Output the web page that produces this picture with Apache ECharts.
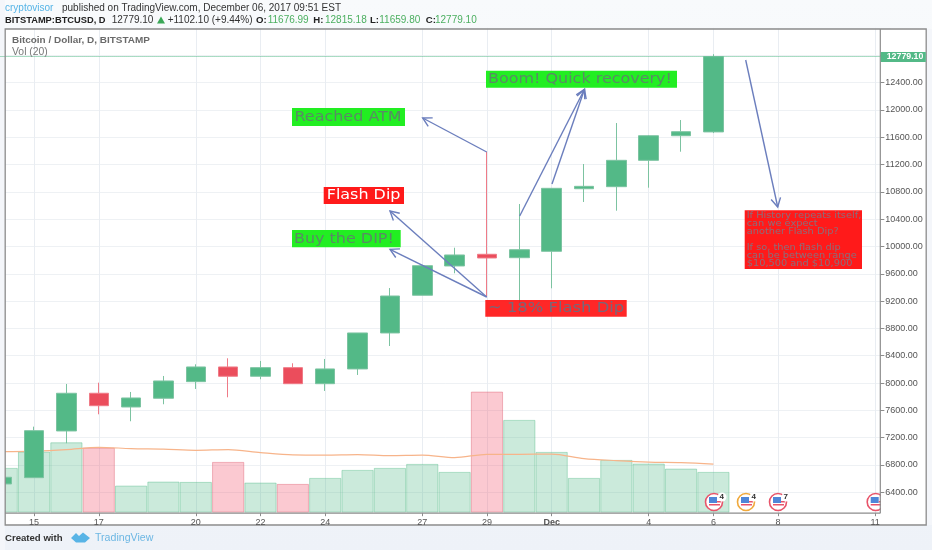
<!DOCTYPE html>
<html><head><meta charset="utf-8">
<style>html,body{margin:0;padding:0;width:932px;height:550px;overflow:hidden;background:linear-gradient(#f8fafc,#eef2f8);}#c{width:932px;height:550px;}</style>
<script src="https://cdn.jsdelivr.net/npm/echarts@6/dist/echarts.min.js"></script>
</head><body><div id="c"></div>
<script>
// ---- data ----
const categories = ['14','15','16','17','18','19','20','21','22','23','24','25','26','27','28','29','30','Dec','2','3','4','5','6','7','8','9','10','11'];
const shownDays  = ['15','17','20','22','24','27','29','Dec','4','6','8','11'];
const opens  = [6522,6614,7298,7850,7649,7777,8020,8235,8099,8225,7990,8206,8733,9285,9714,9885,9835,9929,10845,10875,11261,11621,11676.99];
const closes = [6620,7302,7850,7668,7781,8030,8235,8099,8225,7990,8206,8733,9274,9718,9875,9831,9952,10851,10880,11261,11621,11680,12779.10];
const highs  = [6620,7361,7986,8005,7869,8103,8274,8362,8323,8289,8352,8733,9391,9730,9981,11387,10621,10855,11207,11807,11630,11851,12815.18];
const lows   = [6522,6614,7118,7542,7440,7689,7913,7791,8055,7985,7884,8118,8542,9285,9607,9264,9011,9387,10651,10523,10860,11387,11659.80];
const volumes = [44.7,61,70.3,65,27,31,30.7,50.7,30,28.7,34.7,42.7,44.7,48.7,40.7,121,92.7,60.7,34.7,52.7,49,44,40.7];
const volumeMA = [61,61.5,63,65.3,64,63.5,62.3,63,60,57.7,57.5,58,57,57.5,55,58.3,58.3,58.5,54,52,50.5,50,48.5];
const priceTicks = [6400,6800,7200,7600,8000,8400,8800,9200,9600,10000,10400,10800,11200,11600,12000,12400,12800];
const lastPrice = 12779.10;

const UP='#53b987', DOWN='#eb4d5c';
const candleData = opens.map((o,i)=>[o,closes[i],lows[i],highs[i]]);
const volumeData = volumes.map((v,i)=>({value:v,itemStyle:closes[i]>=opens[i]
  ?{color:'rgba(83,185,135,0.30)',borderColor:'rgba(83,185,135,0.42)',borderWidth:1}
  :{color:'rgba(244,92,116,0.33)',borderColor:'rgba(220,90,110,0.42)',borderWidth:1}}));

const UI='"Liberation Sans",Arial,sans-serif', DV='"DejaVu Sans",sans-serif';
const ARROW='#6b7ebd';
function txt(x,y,t,fill,size,weight,family,z,sx){return{type:'text',z:z||20,x:x,y:y,scaleX:sx||1,style:{text:t,fill:fill,font:(weight||'normal')+' '+size+'px '+(family||UI),verticalAlign:'middle',align:'left'}};}
function rect(x,y,w,h,fill,z){return{type:'rect',z:z||18,shape:{x:x,y:y,width:w,height:h},style:{fill:fill}};}
function seg(x1,y1,x2,y2,col,w,z){return{type:'line',z:z,shape:{x1:x1,y1:y1,x2:x2,y2:y2},style:{stroke:col,lineWidth:w}};}
function arrow(x1,y1,x2,y2){
  const a=Math.atan2(y1-y2,x1-x2),L=10,s=0.5;
  return[
   {type:'polyline',z:19,shape:{points:[[x1,y1],[x2,y2]]},style:{stroke:ARROW,lineWidth:1.4,fill:null}},
   {type:'polyline',z:19,shape:{points:[[x2+L*Math.cos(a+s),y2+L*Math.sin(a+s)],[x2,y2],[x2+L*Math.cos(a-s),y2+L*Math.sin(a-s)]]},style:{stroke:ARROW,lineWidth:1.4,fill:null}}
  ];
}
function flag(x,col,n){
  const y=502, out=[
   {type:'circle',z:4,shape:{cx:x,cy:y,r:8.5},style:{fill:'#fff',stroke:col,lineWidth:1.6}},
   rect(x-6,y-5,12,9,'#fff',4),
   rect(x-5,y-5,8,6,'#4f86d8',4),
   rect(x-5,y+2,11,1.5,'#e8546a',4),
   rect(x+3,y-1,4,1.5,'#e8546a',4)
  ];
  if(n){out.push({type:'circle',z:4,shape:{cx:x+8,cy:y-5,r:4.5},style:{fill:'#fff'}});
    out.push(txt(x+5.6,y-5,n,'#333',8,'bold',UI,4));}
  return out;
}
const g=[];
// covers trimming the scales to the visible pane
g.push(rect(0,0,5,550,'#f4f6fa',5));
g.push(rect(881,29,45,496,'#ffffff',5));
g.push(rect(5,513.6,921,12,'#ffffff',5));
g.push(rect(926,29,6,496,'#f4f6fa',5));
g.push({type:'rect',z:6,shape:{x:5.2,y:29,width:921,height:496},style:{fill:null,stroke:'#8c8c8c',lineWidth:1.3}});
g.push(seg(880.3,29,880.3,513.2,'#8c8c8c',1.2,6));
g.push(seg(5,513.2,880.3,513.2,'#8c8c8c',1.2,6));
// header
g.push(txt(5,8,'cryptovisor','#55b4e6',10));
g.push(txt(62,8,'published on TradingView.com, December 06, 2017 09:51 EST','#333',10));
g.push(txt(5,20,'BITSTAMP:BTCUSD, D','#222',9.3,'bold'));
g.push(txt(111.7,20,'12779.10','#333',10));
g.push({type:'polygon',z:20,shape:{points:[[157,23.5],[165,23.5],[161,16.5]]},style:{fill:'#3aa757'}});
g.push(txt(167.7,20,'+1102.10 (+9.44%)','#333',10));
g.push(txt(256,20,'O:','#222',9.6,'bold'));g.push(txt(267.7,20,'11676.99','#4caf60',10));
g.push(txt(313.3,20,'H:','#222',9.6,'bold'));g.push(txt(325,20,'12815.18','#4caf60',10));
g.push(txt(370,20,'L:','#222',9.6,'bold'));g.push(txt(379.3,20,'11659.80','#4caf60',10));
g.push(txt(425.7,20,'C:','#222',9.6,'bold'));g.push(txt(435,20,'12779.10','#4caf60',10));
g.push(txt(12,40,'Bitcoin / Dollar, D, BITSTAMP','#6a6a6a',9.95,'bold'));
g.push(txt(12,52,'Vol (20)','#777',10.4));
// footer
g.push(txt(5,538,'Created with','#333',9.6,'bold'));
g.push({type:'polygon',z:20,shape:{points:[[71,538],[76,533],[79,536],[83,532.5],[90,538],[85,542.5],[76,542.5]]},style:{fill:'#58b4e6'}});
g.push(txt(95,538,'TradingView','#6db7e3',10.6));
// price tag
g.push(rect(880.8,52,45,10,UP,12));
g.push(txt(886.7,57,'12779.10','#fff',8.8,'bold',UI,13));
// flags
g.push(...flag(714,'#e8546a','4'),...flag(746,'#f0a93c','4'),...flag(778,'#e8546a','7'),...flag(875.7,'#e8546a',null));
// annotations
const GREEN='#22ee22', RED='rgba(255,15,15,0.9)', S=1.14;
g.push(rect(292,108,113,18,GREEN));g.push(txt(294.5,117,'Reached ATM','#5a8a66',14,'normal',DV,20,S));
g.push(rect(486,70.7,191,17,GREEN));g.push(txt(488,79,'Boom! Quick recovery!','#5a8a66',14,'normal',DV,20,S));
g.push(rect(323.7,187,80.3,17,'#ff1a1a'));g.push(txt(326.7,195.5,'Flash Dip','#fff',14,'normal',DV,20,S));
g.push(rect(292,230,108.7,17.3,GREEN));g.push(txt(294,239,'Buy the DIP!','#5a8a66',14,'normal',DV,20,S));
g.push(rect(485.3,300,141.4,16.7,RED));g.push(txt(488,308.5,'~ 18% Flash Dip','#77687a',14,'normal',DV,20,1.17));
g.push(rect(744.7,210.3,117.3,58.7,'#ff1a1a'));
[['If History repeats itself,',215.5],['can we expect',223.5],['another Flash Dip?',231.5],['If so, then flash dip',247.5],['can be between range',255.5],['$10,500 and $10,900',263.5]]
  .forEach(l=>g.push(txt(746.7,l[1],l[0],'#8a6f7c',8.6,'normal',DV,20,S)));
g.push(...arrow(486.7,152,422.7,118));
g.push(...arrow(486.7,297,390,211));
g.push(...arrow(486.7,297,390,249.3));
g.push(...arrow(519.7,216,584.5,89.3));
g.push(...arrow(552,184,584.5,89.3));
g.push(...arrow(745.7,60,777.7,207));

const chart=echarts.init(document.getElementById('c'),null,{renderer:'canvas'});
const showDay=(i,name)=>shownDays.indexOf(name)>=0;
chart.setOption({
  animation:false,
  backgroundColor:'transparent',
  textStyle:{fontFamily:UI},
  grid:{show:true,left:-14.47,width:905.8,top:27.9,height:491.7,backgroundColor:'#fff',borderWidth:0,containLabel:false,outerBoundsMode:'none'},
  xAxis:[
   {type:'category',data:categories,position:'bottom',
    axisLine:{show:false},axisTick:{show:false},axisLabel:{show:false},
    splitLine:{show:true,alignWithLabel:true,interval:showDay,lineStyle:{color:'#e9edf2',width:1}}},
   {type:'category',data:categories,position:'bottom',offset:-6.4,z:10,
    axisLine:{show:false},
    axisTick:{show:true,alignWithLabel:true,interval:showDay,length:3,lineStyle:{color:'#8c8c8c'}},
    axisLabel:{interval:showDay,margin:5,fontSize:9,color:'#555',
      formatter:v=>v==='Dec'?'{b|Dec}':v,rich:{b:{fontWeight:'bold',fontSize:9,color:'#555'}}},
    splitLine:{show:false}}
  ],
  yAxis:[
   {type:'value',position:'right',min:6000,max:13200,interval:400,
    axisLine:{show:false},axisTick:{show:false},axisLabel:{show:false},
    splitLine:{show:true,lineStyle:{color:'#eef1f4',width:1}}},
   {type:'value',min:-7,max:484.7,show:false,splitLine:{show:false}},
   {type:'value',position:'right',offset:-11,min:6000,max:13200,interval:400,z:10,
    axisLine:{show:false},
    axisTick:{show:true,length:4,customValues:priceTicks,lineStyle:{color:'#8c8c8c'}},
    axisLabel:{margin:5,fontSize:9,color:'#555',customValues:priceTicks,formatter:v=>v.toFixed(2)},
    splitLine:{show:false}}
  ],
  graphic:{elements:g},
  series:[
   {type:'bar',name:'Vol',xAxisIndex:0,yAxisIndex:1,data:volumeData,barWidth:32.2,barGap:0,z:1},
   {type:'line',name:'Vol MA',xAxisIndex:0,yAxisIndex:1,data:volumeMA,smooth:0.3,showSymbol:false,symbol:'none',z:2,
    lineStyle:{color:'#f7b48a',width:1.2}},
   {type:'candlestick',name:'BTCUSD',xAxisIndex:0,yAxisIndex:0,data:candleData,barWidth:20,z:3,
    itemStyle:{color:UP,color0:DOWN,borderColor:'#7cc3a1',borderColor0:'#ef7b87',borderWidth:1},
    markLine:{silent:true,symbol:'none',label:{show:false},lineStyle:{color:UP,type:'dotted',width:1},data:[{yAxis:lastPrice}]}}
  ]
});
</script></body></html>
